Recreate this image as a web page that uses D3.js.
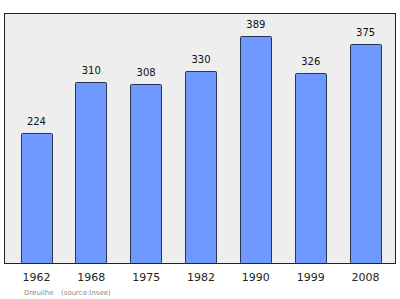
<!DOCTYPE html>
<html>
<head>
<meta charset="utf-8">
<script src="https://cdn.jsdelivr.net/npm/d3@7"></script>
<style>
  body { margin: 0; background: #fff; }
  svg { display: block; font-family: "DejaVu Sans", sans-serif; }
</style>
</head>
<body>
<svg id="chart" width="400" height="299"></svg>
<script>
const years = ["1962", "1968", "1975", "1982", "1990", "1999", "2008"];
const population = [224, 310, 308, 330, 389, 326, 375];
const commune = "Dreuilhe";
const source = "(source:Insee)";

const svg = d3.select("#chart");

const frame = { left: 4.5, top: 13.5, right: 395.5, bottom: 263.5 };

const xScale = d3.scaleBand()
    .domain(years)
    .range([9, 393])
    .paddingInner(0.42)
    .paddingOuter(0.21);

const yScale = d3.scaleLinear()
    .domain([0, 428])
    .range([frame.bottom, frame.top]);

// plot background
svg.append("rect")
    .attr("x", frame.left)
    .attr("y", frame.top)
    .attr("width", frame.right - frame.left)
    .attr("height", frame.bottom - frame.top)
    .attr("fill", "#eeeeee");

const data = years.map((y, i) => ({ year: y, value: population[i] }));

svg.append("g")
    .selectAll("rect")
    .data(data)
    .join("rect")
    .attr("x", d => Math.round(xScale(d.year)) + 0.5)
    .attr("y", d => Math.round(yScale(d.value)) + 0.5)
    .attr("width", Math.round(xScale.bandwidth()) - 1)
    .attr("height", d => frame.bottom - Math.round(yScale(d.value)) - 0.5)
    .attr("rx", 1)
    .attr("fill", "#7099ff")
    .attr("stroke", "#2a3550")
    .attr("stroke-width", 1);

svg.append("g")
    .selectAll("text")
    .data(data)
    .join("text")
    .attr("x", d => xScale(d.year) + xScale.bandwidth() / 2)
    .attr("y", d => yScale(d.value) - 8)
    .attr("text-anchor", "middle")
    .attr("font-size", 10)
    .attr("fill", "#111")
    .text(d => d.value);

// frame border
svg.append("rect")
    .attr("x", frame.left)
    .attr("y", frame.top)
    .attr("width", frame.right - frame.left)
    .attr("height", frame.bottom - frame.top)
    .attr("fill", "none")
    .attr("stroke", "#222")
    .attr("stroke-width", 1);

const xAxis = svg.append("g")
    .attr("transform", `translate(0, ${frame.bottom})`)
    .call(d3.axisBottom(xScale).tickSize(0).tickPadding(10));
xAxis.select(".domain").remove();
xAxis.selectAll("text")
    .attr("font-size", 11)
    .attr("font-family", "DejaVu Sans, sans-serif")
    .attr("fill", "#222");

svg.append("text")
    .attr("x", 24)
    .attr("y", 295)
    .attr("font-size", 7)
    .attr("fill", "#8a8a8a")
    .text(commune);

svg.append("text")
    .attr("x", 61)
    .attr("y", 295)
    .attr("font-size", 7)
    .attr("fill", "#8a8a8a")
    .text(source);
</script>
</body>
</html>
